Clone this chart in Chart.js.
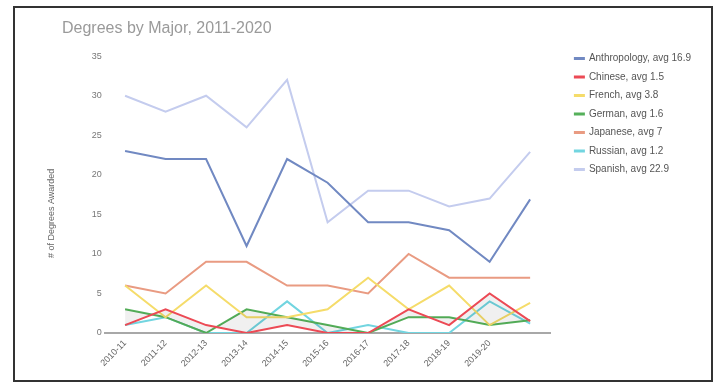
<!DOCTYPE html>
<html>
<head>
<meta charset="utf-8">
<title>Degrees by Major, 2011-2020</title>
<script src="https://cdn.jsdelivr.net/npm/chart.js@4/dist/chart.umd.min.js"></script>
<style>
  html, body { margin: 0; padding: 0; background: #fff; }
  #wrap { position: relative; width: 714px; height: 383px; }
  #frame { position: absolute; left: 13px; top: 6px; width: 696px; height: 372px; border: 2px solid #333; pointer-events: none; }
</style>
</head>
<body>
<div id="wrap">
  <canvas id="chart"></canvas>
  <div id="frame"></div>
</div>
<script>
'use strict';

// school years on the x axis (the last point has no label in the original)
const years = ['2010-11', '2011-12', '2012-13', '2013-14', '2014-15', '2015-16', '2016-17', '2017-18', '2018-19', '2019-20', ''];

const majors = ['Anthropology', 'Chinese', 'French', 'German', 'Japanese', 'Russian', 'Spanish'];

const anthropology = [23, 22, 22, 11, 22, 19, 14, 14, 13, 9, 16.9];
const chinese = [1, 3, 1, 0, 1, 0, 0, 3, 1, 5, 1.5];
const french = [6, 2, 6, 2, 2, 3, 7, 3, 6, 1, 3.8];
const german = [3, 2, 0, 3, 2, 1, 0, 2, 2, 1, 1.6];
const japanese = [6, 5, 9, 9, 6, 6, 5, 10, 7, 7, 7];
const russian = [1, 2, 0, 0, 4, 0, 1, 0, 0, 4, 1.2];
const spanish = [30, 28, 30, 26, 32, 14, 18, 18, 16, 17, 22.9];

const yTicks = [0, 5, 10, 15, 20, 25, 30, 35];

const lineColors = ['#7189c2', '#ec4a55', '#f5dc6a', '#55b05a', '#e99b82', '#72d5e0', '#c4ccee'];

const series = [anthropology, chinese, french, german, japanese, russian, spanish];

// average over the ten labelled years
function avgOf(values) {
  let sum = 0;
  for (let i = 0; i < 10; i++) {
    sum += values[i];
  }
  return Math.round(sum) / 10;
}

let datasets = [];
for (let i = 0; i < majors.length; i++) {
  datasets.push({
    label: majors[i] + ', avg ' + avgOf(series[i]),
    data: series[i],
    borderColor: lineColors[i],
    backgroundColor: lineColors[i],
    borderWidth: 2,
    pointRadius: 0,
    tension: 0,
    fill: false
  });
}
// faint grey band between Chinese and German
datasets[1].fill = 3;
datasets[1].backgroundColor = 'rgba(0, 0, 0, 0.06)';

// nudge the title and the legend to where they sit in the original
const nudge = {
  id: 'nudge',
  afterLayout(chart) {
    const t = chart.titleBlock;
    if (t) {
      t.left += 32;
      t.right += 32;
    }
    const l = chart.legend;
    if (l) {
      l.left += 16;
      l.right += 16;
      l.top += 37;
      l.bottom += 37;
    }
  }
};

Chart.defaults.font.family = 'Arial, "Liberation Sans", sans-serif';

const ctx = document.getElementById('chart');
const myChart = new Chart(ctx, {
  type: 'line',
  data: {
    labels: years,
    datasets: datasets
  },
  options: {
    responsive: true,
    maintainAspectRatio: false,
    animation: false,
    layout: {
      padding: { left: 30, right: 29, top: 8, bottom: 9 }
    },
    plugins: {
      title: {
        display: true,
        text: 'Degrees by Major, 2011-2020',
        align: 'start',
        color: '#9a9a9a',
        font: { size: 16, weight: 'normal' },
        padding: { top: 11, bottom: 18 }
      },
      legend: {
        position: 'right',
        align: 'start',
        labels: {
          boxWidth: 9,
          boxHeight: 1,
          padding: 8.5,
          color: '#555',
          font: { size: 10 }
        }
      }
    },
    scales: {
      x: {
        offset: true,
        grid: { display: false, drawTicks: false },
        border: { display: true, color: '#a8a8a8', width: 2 },
        ticks: {
          autoSkip: false,
          minRotation: 45,
          maxRotation: 45,
          padding: 5,
          color: '#666',
          font: { size: 9 }
        }
      },
      y: {
        min: yTicks[0],
        max: yTicks[yTicks.length - 1],
        grid: { display: false, drawTicks: false },
        border: { display: false },
        ticks: {
          stepSize: 5,
          padding: 3,
          color: '#777',
          font: { size: 9 }
        },
        title: {
          display: true,
          // trailing spaces push the label a little below the axis middle, as in the original
          text: '# of Degrees Awarded' + ' '.repeat(15),
          color: '#666',
          font: { size: 9 },
          padding: { top: 16, bottom: 32 }
        }
      }
    }
  },
  plugins: [nudge]
});
</script>
</body>
</html>
